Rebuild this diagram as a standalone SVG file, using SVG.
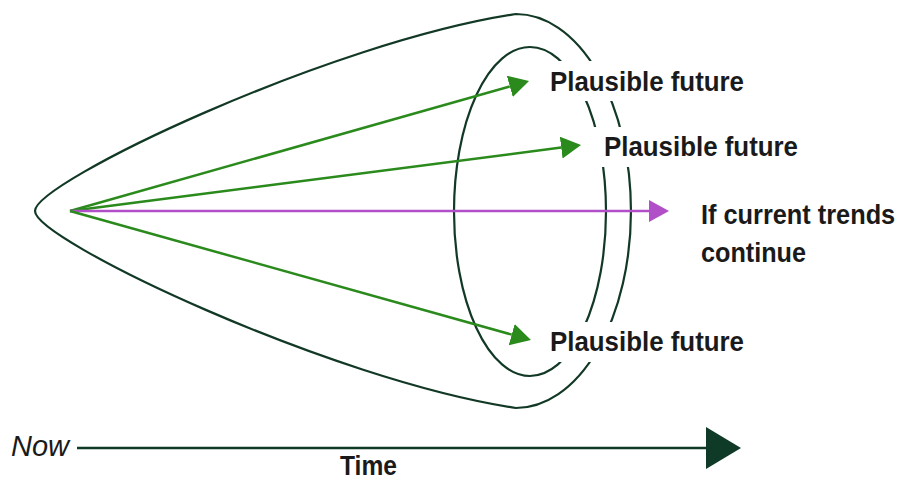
<svg xmlns="http://www.w3.org/2000/svg" width="902" height="480" viewBox="0 0 902 480">
<style>
.outline{fill:none;stroke:#123826;stroke-width:2.2}
.g{fill:none;stroke:#2a8a1c;stroke-width:2.5}
.p{fill:none;stroke:#b04fc8;stroke-width:2.5}
.lbl{font-family:"Liberation Sans",Arial,sans-serif;font-weight:bold;font-size:28px;fill:#1a1a1a}
.mask{fill:#ffffff}
</style>
<defs>
<marker id="ag" markerUnits="userSpaceOnUse" markerWidth="22" markerHeight="24" refX="0" refY="11" orient="auto" viewBox="0 0 22 24">
<path d="M0,0 L20,11 L0,22 z" fill="#2a8a1c"/>
</marker>
<marker id="ap" markerUnits="userSpaceOnUse" markerWidth="22" markerHeight="24" refX="0" refY="11" orient="auto" viewBox="0 0 22 24">
<path d="M0,0 L20,11 L0,22 z" fill="#b04fc8"/>
</marker>
</defs>
<g id="cone">
<path class="outline" d="M516,14 A115,197 0 0 1 516,408 C330,380 35,240 35,211 C35,182 330,42 516,14 Z"/>
<ellipse class="outline" cx="530" cy="211.5" rx="76" ry="164.5"/>
</g>
<g id="connectors">
<path class="g" d="M70,211 L509.8,86.4" marker-end="url(#ag)"/>
<path class="g" d="M70,211 L561.2,147.6" marker-end="url(#ag)"/>
<path class="p" d="M70,211 L649,211" marker-end="url(#ap)"/>
<path class="g" d="M70,211 L511.7,334.6" marker-end="url(#ag)"/>
</g>
<g id="future1">
<rect class="mask" x="545" y="61" width="205" height="40"/>
<text class="lbl" x="550" y="91" textLength="194" lengthAdjust="spacingAndGlyphs">Plausible future</text>
</g>
<g id="future2">
<rect class="mask" x="592" y="127" width="213" height="40"/>
<text class="lbl" x="604" y="156" textLength="194" lengthAdjust="spacingAndGlyphs">Plausible future</text>
</g>
<g id="trends">
<text class="lbl" transform="translate(701,224) scale(0.905,1)" x="0" y="0">If current trends</text>
<text class="lbl" x="701" y="262" textLength="105" lengthAdjust="spacingAndGlyphs">continue</text>
</g>
<g id="future3">
<rect class="mask" x="545" y="322" width="205" height="40"/>
<text class="lbl" x="550" y="351" textLength="194" lengthAdjust="spacingAndGlyphs">Plausible future</text>
</g>
<g id="timeaxis">
<text x="11" y="456" font-family="Liberation Sans, Arial, sans-serif" font-style="italic" font-size="29" fill="#1a1a1a">Now</text>
<path d="M77,448 L707,448" stroke="#0f3a27" stroke-width="2.5" fill="none"/>
<polygon points="706,427 741,448 706,469" fill="#0f3a27"/>
<text class="lbl" x="340" y="475" textLength="57" lengthAdjust="spacingAndGlyphs">Time</text>
</g>
</svg>
